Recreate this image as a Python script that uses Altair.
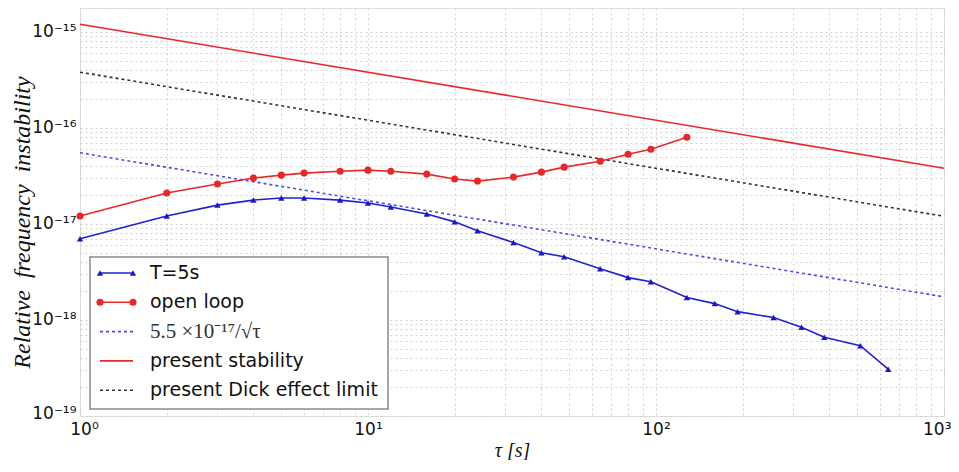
import altair as alt
import pandas as pd

# ---- data ----
tau_T5 = [1, 2, 3, 4, 5, 6, 8, 10, 12, 16, 20, 24, 32, 40, 48, 64, 80, 96, 128,
          160, 192, 256, 320, 384, 512, 640]
adev_T5 = [7.0e-18, 1.21e-17, 1.57e-17, 1.77e-17, 1.86e-17, 1.86e-17, 1.77e-17,
           1.65e-17, 1.50e-17, 1.27e-17, 1.05e-17, 8.5e-18, 6.4e-18, 5.0e-18,
           4.55e-18, 3.42e-18, 2.76e-18, 2.5e-18, 1.71e-18, 1.48e-18, 1.22e-18,
           1.06e-18, 8.4e-19, 6.6e-19, 5.4e-19, 3.07e-19]

tau_open = [1, 2, 3, 4, 5, 6, 8, 10, 12, 16, 20, 24, 32, 40, 48, 64, 80, 96, 128]
adev_open = [1.21e-17, 2.1e-17, 2.6e-17, 3.0e-17, 3.22e-17, 3.38e-17, 3.54e-17,
             3.63e-17, 3.54e-17, 3.3e-17, 2.93e-17, 2.79e-17, 3.07e-17, 3.46e-17,
             3.9e-17, 4.5e-17, 5.31e-17, 5.99e-17, 7.97e-17]

ref_tau = [1, 1000]
ref_sqrt = [5.5e-17, 1.74e-18]
ref_stability = [1.2e-15, 3.8e-17]
ref_dick = [3.8e-16, 1.2e-17]

legend_labels = ["T=5s", "open loop", "5.5 ×10⁻¹⁷/√τ", "present stability",
                 "present Dick effect limit"]

# ---- styling ----
BLUE = "#2020d8"
RED = "#e82828"
BLUE_DASH = "#4a4af0"
BLACK_DASH = "#333333"

SUP = str.maketrans("-0123456789", "⁻⁰¹²³⁴⁵⁶⁷⁸⁹")


def pow_label_expr(exps):
    e = "round(log(datum.value)/LN10)"
    major = f"abs(log(datum.value)/LN10 - {e}) < 0.001"
    chain = "".join(f"{e} == {k} ? '10{str(k).translate(SUP)}' : " for k in exps) + "''"
    return f"{major} ? ({chain}) : ''"


def log_values(e0, e1, top):
    vals = []
    for k in range(e0, e1 + 1):
        for m in range(1, 10):
            v = m * 10.0 ** k
            if v <= top * 1.0001:
                vals.append(v)
    return vals


YTOP = 1.77e-15
x_vals = log_values(0, 3, 1000)
y_vals = log_values(-19, -15, YTOP)

GRID = dict(gridColor="#d2d2d2", gridDash=[2, 3], gridWidth=1)
LAST_X = "datum.value > 999"
FIRST_X = "datum.value < 1.5"
FIRST_Y = "datum.value < 1.5e-19"

x_axis = alt.Axis(values=x_vals, labelExpr=pow_label_expr(range(0, 4)),
                  labelFont="DejaVu Sans", labelFontSize=17, labelColor="#111",
                  labelPadding=5, labelFlush=False, labelOverlap=False,
                  labelAlign={"condition": {"test": LAST_X, "value": "right"}, "value": "center"},
                  labelOffset={"condition": [{"test": LAST_X, "value": 7},
                                             {"test": FIRST_X, "value": 4}], "value": 0},
                  ticks=False, domain=False, **GRID,
                  title="τ  [s]", titleFont="Liberation Serif", titleFontStyle="italic",
                  titleFontWeight="normal", titleFontSize=20, titleColor="#111",
                  titleBaseline="middle", titleY=34)
y_axis = alt.Axis(values=y_vals, labelExpr=pow_label_expr(range(-19, -14)),
                  labelFont="DejaVu Sans", labelFontSize=17, labelColor="#111",
                  labelPadding=4, labelFlush=False, labelOverlap=False,
                  labelOffset={"condition": {"test": FIRST_Y, "value": -3}, "value": 0},
                  ticks=False, domain=False, **GRID,
                  title="Relative\u2002frequency\u2002instability",
                  titleFont="Liberation Serif", titleFontStyle="italic",
                  titleFontWeight="normal", titleFontSize=24, titleColor="#111",
                  titleBaseline="middle", titleAlign="center", titleX=-58, titleY=214)

xs = alt.Scale(type="log", domain=[1, 1000], nice=False)
ys = alt.Scale(type="log", domain=[1e-19, YTOP], nice=False)


def X():
    return alt.X("tau:Q", scale=xs, axis=x_axis)


def Y():
    return alt.Y("v:Q", scale=ys, axis=y_axis)


df_T5 = pd.DataFrame({"tau": tau_T5, "v": adev_T5})
df_open = pd.DataFrame({"tau": tau_open, "v": adev_open})
df_sqrt = pd.DataFrame({"tau": ref_tau, "v": ref_sqrt})
df_stab = pd.DataFrame({"tau": ref_tau, "v": ref_stability})
df_dick = pd.DataFrame({"tau": ref_tau, "v": ref_dick})

layers = [
    alt.Chart(df_stab).mark_line(color=RED, strokeWidth=1.6).encode(x=X(), y=Y()),
    alt.Chart(df_dick).mark_line(color=BLACK_DASH, strokeWidth=1.6, strokeDash=[3, 3]).encode(x=X(), y=Y()),
    alt.Chart(df_sqrt).mark_line(color=BLUE_DASH, strokeWidth=1.6, strokeDash=[3, 3]).encode(x=X(), y=Y()),
    alt.Chart(df_open).mark_line(color=RED, strokeWidth=1.6).encode(x=X(), y=Y()),
    alt.Chart(df_open).mark_point(shape="circle", filled=True, color=RED, size=50, opacity=1).encode(x=X(), y=Y()),
    alt.Chart(df_T5).mark_line(color=BLUE, strokeWidth=1.6).encode(x=X(), y=Y()),
    alt.Chart(df_T5).mark_point(shape="triangle-up", filled=True, color="#1a1ab8", size=40, opacity=1).encode(x=X(), y=Y()),
]

# ---- legend (drawn inside plot area, pixel positions relative to plot) ----
one = pd.DataFrame({"a": [0]})
LX0, LX1, LY0, LY1 = 10, 308, 249, 401
layers.append(alt.Chart(one).mark_rect(fill="white", stroke="#8a8a8a", strokeWidth=1.5).encode(
    x=alt.value(LX0), x2=alt.value(LX1), y=alt.value(LY0), y2=alt.value(LY1)))

entry_y = [265 + i * 29.3 for i in range(5)]
line_styles = [
    dict(color=BLUE, strokeWidth=1.6),
    dict(color=RED, strokeWidth=1.6),
    dict(color=BLUE_DASH, strokeWidth=1.6, strokeDash=[3, 3]),
    dict(color=RED, strokeWidth=1.6),
    dict(color=BLACK_DASH, strokeWidth=1.6, strokeDash=[3, 3]),
]
for i, (lab, yy) in enumerate(zip(legend_labels, entry_y)):
    layers.append(alt.Chart(one).mark_rule(**line_styles[i]).encode(
        x=alt.value(20), x2=alt.value(53), y=alt.value(yy)))
    if i == 0:
        for xx in (20, 53):
            layers.append(alt.Chart(one).mark_point(shape="triangle-up", filled=True, color="#1a1ab8",
                                                    size=40, opacity=1).encode(x=alt.value(xx), y=alt.value(yy)))
    if i == 1:
        for xx in (20, 53):
            layers.append(alt.Chart(one).mark_point(shape="circle", filled=True, color=RED,
                                                    size=50, opacity=1).encode(x=alt.value(xx), y=alt.value(yy)))
    if i == 2:
        tmark = alt.Chart(one).mark_text(text=lab, align="left", baseline="middle",
                                         font="Liberation Serif", fontSize=21, color="#333")
    else:
        tmark = alt.Chart(one).mark_text(text=lab, align="left", baseline="middle",
                                         font="DejaVu Sans", fontSize=19, color="#111")
    layers.append(tmark.encode(x=alt.value(70), y=alt.value(yy)))

chart = alt.layer(*layers).properties(
    width=864, height=408,
    autosize=alt.AutoSizeParams(type="none"),
    padding={"left": 72, "top": 0, "right": 7, "bottom": 44},
).configure_view(stroke="#777", strokeWidth=1.2).configure(background="white")

chart.save("out.html", embed_options={"renderer": "svg", "actions": False})
